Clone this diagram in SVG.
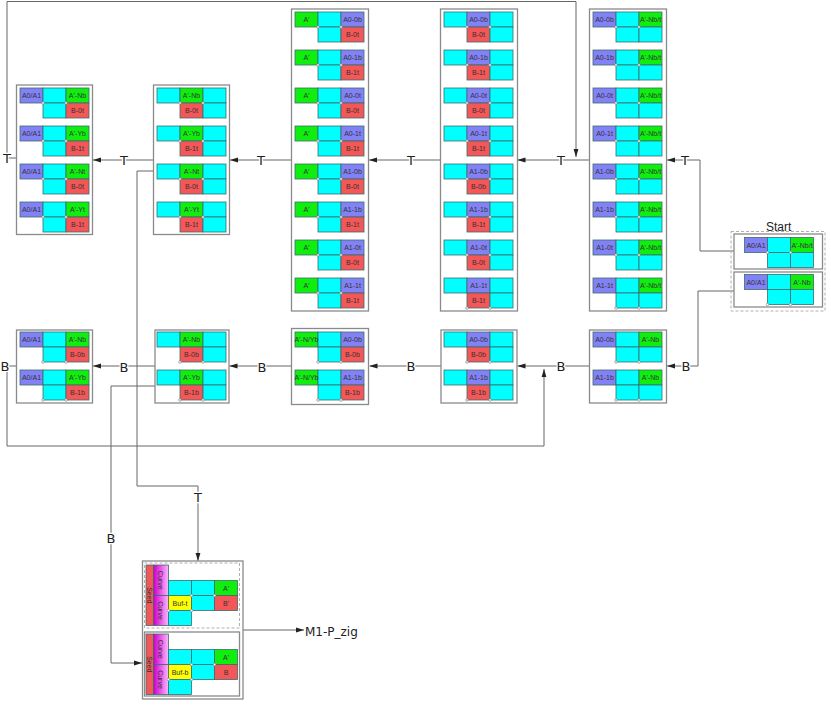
<svg xmlns="http://www.w3.org/2000/svg" width="831" height="708" viewBox="0 0 831 708">
<style>
.cy{fill:#00ffff}.pu{fill:#8282f6}.gr{fill:#10ee10}.rd{fill:#f35757}.ye{fill:#ffff00}.cv{fill:url(#cg)}
.box{fill:#fff;stroke:#8a8a8a;stroke-width:1.3}
.dbox{fill:none;stroke:#b0b0b0;stroke-width:1;stroke-dasharray:3 2}
.n text{font-family:"Liberation Sans",Arial,sans-serif;font-size:7px;fill:#333;text-anchor:middle}
.e{fill:none;stroke:#666;stroke-width:1}
.ea{marker-end:url(#ah)}
.el{font-family:"DejaVu Sans","Liberation Sans",sans-serif;font-size:13px;fill:#222;text-anchor:middle;stroke:#fff;stroke-width:2.5;paint-order:stroke;dominant-baseline:central}
.big{font-family:"DejaVu Sans","Liberation Sans",sans-serif;font-size:12px;fill:#222}
</style>
<defs>
<linearGradient id="cg" x1="0" y1="0" x2="1" y2="0"><stop offset="0" stop-color="#c800c8"/><stop offset="0.45" stop-color="#e650e6"/><stop offset="1" stop-color="#fbb8fb"/></linearGradient>
<marker id="ah" markerWidth="8" markerHeight="6" refX="8" refY="3" orient="auto" markerUnits="userSpaceOnUse"><path d="M0,0.6 L8,3 L0,5.4 z" fill="#222"/></marker>
<g id="pt" fill="#fff" stroke="#777" stroke-width="0.6"><circle cx="23" cy="0" r="1.3"/><circle cx="46" cy="0" r="1.3"/></g>
<g id="tE" stroke="#3e6a6c" stroke-width="0.8"><rect class="pu" width="23" height="15"/><rect class="cy" x="23" width="23" height="15"/><rect class="gr" x="46" width="23" height="15"/><rect class="cy" x="23" y="15" width="23" height="15"/><rect class="cy" x="46" y="15" width="23" height="15"/></g>
<g id="tD" stroke="#3e6a6c" stroke-width="0.8"><rect class="cy" width="23" height="15"/><rect class="pu" x="23" width="23" height="15"/><rect class="cy" x="46" width="23" height="15"/><rect class="rd" x="23" y="15" width="23" height="15"/><rect class="cy" x="46" y="15" width="23" height="15"/></g>
<g id="tC" stroke="#3e6a6c" stroke-width="0.8"><rect class="gr" width="23" height="15"/><rect class="cy" x="23" width="23" height="15"/><rect class="pu" x="46" width="23" height="15"/><rect class="cy" x="23" y="15" width="23" height="15"/><rect class="rd" x="46" y="15" width="23" height="15"/></g>
<g id="tB" stroke="#3e6a6c" stroke-width="0.8"><rect class="cy" width="23" height="15"/><rect class="gr" x="23" width="23" height="15"/><rect class="cy" x="46" width="23" height="15"/><rect class="rd" x="23" y="15" width="23" height="15"/><rect class="cy" x="46" y="15" width="23" height="15"/></g>
<g id="tA" stroke="#3e6a6c" stroke-width="0.8"><rect class="pu" width="23" height="15"/><rect class="cy" x="23" width="23" height="15"/><rect class="gr" x="46" width="23" height="15"/><rect class="cy" x="23" y="15" width="23" height="15"/><rect class="rd" x="46" y="15" width="23" height="15"/></g>
</defs>

<g id="connectors">
<path class="e ea" d="M734,251 H700 V160 H667"/>
<path class="e ea" d="M734,291 H698 V366 H667"/>
<path class="e ea" d="M589.5,160 H517.5"/>
<path class="e ea" d="M440.5,160 H369"/>
<path class="e ea" d="M291.5,160 H230"/>
<path class="e ea" d="M153.5,160 H93"/>
<path class="e ea" d="M16.5,158 H7 V1.5 H576 V157"/>
<path class="e ea" d="M589.5,366 H517.5"/>
<path class="e ea" d="M441,366 H369.5"/>
<path class="e ea" d="M291,366 H229.5"/>
<path class="e ea" d="M155,366 H93"/>
<path class="e ea" d="M16.5,366 H7 V446 H544 V369"/>
<path class="e ea" d="M153.5,171 H137 V486 H198 V561"/>
<path class="e ea" d="M155,386 H111 V663 H142"/>
<path class="e ea" d="M243,630 H304"/>
<text class="el" x="685" y="160">T</text>
<text class="el" x="686" y="366">B</text>
<text class="el" x="561" y="160">T</text>
<text class="el" x="411" y="160">T</text>
<text class="el" x="261" y="160">T</text>
<text class="el" x="124" y="160">T</text>
<text class="el" x="7" y="158">T</text>
<text class="el" x="561" y="366">B</text>
<text class="el" x="411" y="366">B</text>
<text class="el" x="262" y="367">B</text>
<text class="el" x="124" y="367">B</text>
<text class="el" x="5" y="366">B</text>
<text class="el" x="198" y="497">T</text>
<text class="el" x="111" y="538">B</text>
<text class="big" x="305" y="636">M1-P_zig</text>
</g>

<g id="colE" class="n">
<rect class="box" x="589.5" y="9" width="77" height="302"/>
<use href="#tE" x="593" y="12"/><use href="#pt" x="593" y="27"/><text x="604.5" y="22">A0-0b</text><text x="650.5" y="22">A'-Nb/t</text>
<use href="#tE" x="593" y="50"/><use href="#pt" x="593" y="65"/><text x="604.5" y="60">A0-1b</text><text x="650.5" y="60">A'-Nb/t</text>
<use href="#tE" x="593" y="88"/><use href="#pt" x="593" y="103"/><text x="604.5" y="98">A0-0t</text><text x="650.5" y="98">A'-Nb/t</text>
<use href="#tE" x="593" y="126"/><use href="#pt" x="593" y="141"/><text x="604.5" y="136">A0-1t</text><text x="650.5" y="136">A'-Nb/t</text>
<use href="#tE" x="593" y="164"/><use href="#pt" x="593" y="179"/><text x="604.5" y="174">A1-0b</text><text x="650.5" y="174">A'-Nb/t</text>
<use href="#tE" x="593" y="202"/><use href="#pt" x="593" y="217"/><text x="604.5" y="212">A1-1b</text><text x="650.5" y="212">A'-Nb/t</text>
<use href="#tE" x="593" y="240"/><use href="#pt" x="593" y="255"/><text x="604.5" y="250">A1-0t</text><text x="650.5" y="250">A'-Nb/t</text>
<use href="#tE" x="593" y="278"/><use href="#pt" x="593" y="308"/><text x="604.5" y="288">A1-1t</text><text x="650.5" y="288">A'-Nb/t</text>
</g>

<g id="colD" class="n">
<rect class="box" x="440.5" y="9" width="77" height="302"/>
<use href="#tD" x="444" y="12"/><use href="#pt" x="444" y="27"/><text x="478.5" y="22">A0-0b</text><text x="478.5" y="37">B-0t</text>
<use href="#tD" x="444" y="50"/><use href="#pt" x="444" y="65"/><text x="478.5" y="60">A0-1b</text><text x="478.5" y="75">B-1t</text>
<use href="#tD" x="444" y="88"/><use href="#pt" x="444" y="103"/><text x="478.5" y="98">A0-0t</text><text x="478.5" y="113">B-0t</text>
<use href="#tD" x="444" y="126"/><use href="#pt" x="444" y="141"/><text x="478.5" y="136">A0-1t</text><text x="478.5" y="151">B-1t</text>
<use href="#tD" x="444" y="164"/><use href="#pt" x="444" y="179"/><text x="478.5" y="174">A1-0b</text><text x="478.5" y="189">B-0b</text>
<use href="#tD" x="444" y="202"/><use href="#pt" x="444" y="217"/><text x="478.5" y="212">A1-1b</text><text x="478.5" y="227">B-1t</text>
<use href="#tD" x="444" y="240"/><use href="#pt" x="444" y="255"/><text x="478.5" y="250">A1-0t</text><text x="478.5" y="265">B-0t</text>
<use href="#tD" x="444" y="278"/><use href="#pt" x="444" y="308"/><text x="478.5" y="288">A1-1t</text><text x="478.5" y="303">B-1t</text>
</g>

<g id="colC" class="n">
<rect class="box" x="291.5" y="9" width="77" height="302"/>
<use href="#tC" x="295" y="12"/><use href="#pt" x="295" y="27"/><text x="306.5" y="22">A'</text><text x="352.5" y="22">A0-0b</text><text x="352.5" y="37">B-0t</text>
<use href="#tC" x="295" y="50"/><use href="#pt" x="295" y="65"/><text x="306.5" y="60">A'</text><text x="352.5" y="60">A0-1b</text><text x="352.5" y="75">B-1t</text>
<use href="#tC" x="295" y="88"/><use href="#pt" x="295" y="103"/><text x="306.5" y="98">A'</text><text x="352.5" y="98">A0-0t</text><text x="352.5" y="113">B-0t</text>
<use href="#tC" x="295" y="126"/><use href="#pt" x="295" y="141"/><text x="306.5" y="136">A'</text><text x="352.5" y="136">A0-1t</text><text x="352.5" y="151">B-1t</text>
<use href="#tC" x="295" y="164"/><use href="#pt" x="295" y="179"/><text x="306.5" y="174">A'</text><text x="352.5" y="174">A1-0b</text><text x="352.5" y="189">B-0t</text>
<use href="#tC" x="295" y="202"/><use href="#pt" x="295" y="217"/><text x="306.5" y="212">A'</text><text x="352.5" y="212">A1-1b</text><text x="352.5" y="227">B-1t</text>
<use href="#tC" x="295" y="240"/><use href="#pt" x="295" y="255"/><text x="306.5" y="250">A'</text><text x="352.5" y="250">A1-0t</text><text x="352.5" y="265">B-0t</text>
<use href="#tC" x="295" y="278"/><use href="#pt" x="295" y="293"/><text x="306.5" y="288">A'</text><text x="352.5" y="288">A1-1t</text><text x="352.5" y="303">B-1t</text>
</g>

<g id="colB" class="n">
<rect class="box" x="153.5" y="85" width="76" height="149.5"/>
<use href="#tB" x="157" y="88"/><use href="#pt" x="157" y="103"/><text x="191.5" y="98">A'-Nb</text><text x="191.5" y="113">B-0t</text>
<use href="#tB" x="157" y="126"/><use href="#pt" x="157" y="141"/><text x="191.5" y="136">A'-Yb</text><text x="191.5" y="151">B-1t</text>
<use href="#tB" x="157" y="164"/><use href="#pt" x="157" y="179"/><text x="191.5" y="174">A'-Nt</text><text x="191.5" y="189">B-0t</text>
<use href="#tB" x="157" y="202"/><use href="#pt" x="157" y="217"/><text x="191.5" y="212">A'-Yt</text><text x="191.5" y="227">B-1t</text>
</g>

<g id="colA" class="n">
<rect class="box" x="16.5" y="85" width="76" height="149.5"/>
<use href="#tA" x="20" y="88"/><use href="#pt" x="20" y="103"/><text x="31.5" y="98">A0/A1</text><text x="77.5" y="98">A'-Nb</text><text x="77.5" y="113">B-0t</text>
<use href="#tA" x="20" y="126"/><use href="#pt" x="20" y="141"/><text x="31.5" y="136">A0/A1</text><text x="77.5" y="136">A'-Yb</text><text x="77.5" y="151">B-1t</text>
<use href="#tA" x="20" y="164"/><use href="#pt" x="20" y="179"/><text x="31.5" y="174">A0/A1</text><text x="77.5" y="174">A'-Nt</text><text x="77.5" y="189">B-0t</text>
<use href="#tA" x="20" y="202"/><use href="#pt" x="20" y="217"/><text x="31.5" y="212">A0/A1</text><text x="77.5" y="212">A'-Yt</text><text x="77.5" y="227">B-1t</text>
</g>

<g id="boxE2" class="n">
<rect class="box" x="589.5" y="330" width="77" height="73"/>
<use href="#tE" x="593" y="332"/><use href="#pt" x="593" y="362"/><text x="604.5" y="342">A0-0b</text><text x="650.5" y="342">A'-Nb</text>
<use href="#tE" x="593" y="370"/><use href="#pt" x="593" y="400"/><text x="604.5" y="380">A1-1b</text><text x="650.5" y="380">A'-Nb</text>
</g>

<g id="boxD2" class="n">
<rect class="box" x="441" y="330" width="76" height="73"/>
<use href="#tD" x="444" y="332"/><use href="#pt" x="444" y="362"/><text x="478.5" y="342">A0-0b</text><text x="478.5" y="357">B-0b</text>
<use href="#tD" x="444" y="370"/><use href="#pt" x="444" y="400"/><text x="478.5" y="380">A1-1b</text><text x="478.5" y="395">B-1b</text>
</g>

<g id="boxC2" class="n">
<rect class="box" x="291.5" y="328.5" width="77" height="76"/>
<use href="#tC" x="295" y="332"/><use href="#pt" x="295" y="362"/><text x="306.5" y="342" font-size="6.3">A'-N/Yb</text><text x="352.5" y="342">A0-0b</text><text x="352.5" y="357">B-0b</text>
<use href="#tC" x="295" y="370"/><use href="#pt" x="295" y="400"/><text x="306.5" y="380" font-size="6.3">A'-N/Yb</text><text x="352.5" y="380">A1-1b</text><text x="352.5" y="395">B-1b</text>
</g>

<g id="boxB2" class="n">
<rect class="box" x="155" y="330" width="74" height="73"/>
<use href="#tB" x="157" y="332"/><use href="#pt" x="157" y="362"/><text x="191.5" y="342">A'-Nb</text><text x="191.5" y="357">B-0b</text>
<use href="#tB" x="157" y="370"/><use href="#pt" x="157" y="400"/><text x="191.5" y="380">A'-Yb</text><text x="191.5" y="395">B-1b</text>
</g>

<g id="boxA2" class="n">
<rect class="box" x="16.5" y="330" width="76" height="73"/>
<use href="#tA" x="20" y="332"/><use href="#pt" x="20" y="362"/><text x="31.5" y="342">A0/A1</text><text x="77.5" y="342">A'-Nb</text><text x="77.5" y="357">B-0b</text>
<use href="#tA" x="20" y="370"/><use href="#pt" x="20" y="400"/><text x="31.5" y="380">A0/A1</text><text x="77.5" y="380">A'-Yb</text><text x="77.5" y="395">B-1b</text>
</g>

<g id="start" class="n">
<text class="big" x="766" y="231" style="font-size:12px;text-anchor:start;fill:#222">Start</text>
<rect class="dbox" x="731" y="231.5" width="94" height="79.5"/>
<rect class="box" x="734" y="234" width="88.5" height="35"/>
<use href="#tE" x="744.5" y="237.5"/><use href="#pt" x="744.5" y="252.5"/><text x="756" y="247.5">A0/A1</text><text x="802" y="247.5">A'-Nb/t</text>
<rect class="box" x="734" y="272" width="88.5" height="35"/>
<use href="#tE" x="744.5" y="274.5"/><use href="#pt" x="744.5" y="304.5"/><text x="756" y="284.5">A0/A1</text><text x="802" y="284.5">A'-Nb</text>
</g>

<g id="seed" class="n">
<rect class="box" x="142.5" y="561" width="100.5" height="138"/>
<rect class="dbox" x="144.5" y="563" width="95" height="65"/>
<rect class="box" x="144.5" y="632" width="95" height="64"/>
<g stroke="#3e6a6c" stroke-width="0.8">
<rect class="rd" x="146" y="565" width="7.5" height="60.5"/>
<rect class="cv" x="153.5" y="565" width="15" height="30.5"/>
<rect class="cv" x="153.5" y="595.5" width="15" height="30"/>
<rect class="cy" x="168.5" y="580.5" width="23" height="15"/><rect class="cy" x="191.5" y="580.5" width="23" height="15"/><rect class="gr" x="214.5" y="580.5" width="23" height="15"/>
<rect class="ye" x="168.5" y="595.5" width="23" height="15"/><rect class="cy" x="191.5" y="595.5" width="23" height="15"/><rect class="rd" x="214.5" y="595.5" width="23" height="15"/>
<rect class="cy" x="168.5" y="610.5" width="23" height="15"/>
<rect class="rd" x="146" y="634" width="7.5" height="60.5"/>
<rect class="cv" x="153.5" y="634" width="15" height="30.5"/>
<rect class="cv" x="153.5" y="664.5" width="15" height="30"/>
<rect class="cy" x="168.5" y="649.5" width="23" height="15"/><rect class="cy" x="191.5" y="649.5" width="23" height="15"/><rect class="gr" x="214.5" y="649.5" width="23" height="15"/>
<rect class="ye" x="168.5" y="664.5" width="23" height="15"/><rect class="cy" x="191.5" y="664.5" width="23" height="15"/><rect class="rd" x="214.5" y="664.5" width="23" height="15"/>
<rect class="cy" x="168.5" y="679.5" width="23" height="15"/>
</g>
<use href="#pt" x="145.5" y="610.5"/>
<use href="#pt" x="168.5" y="595.5"/>
<use href="#pt" x="145.5" y="679.5"/>
<use href="#pt" x="168.5" y="664.5"/>
<text transform="translate(147.3,595.3) rotate(90)">Seed</text>
<text transform="translate(158.4,580.2) rotate(90)" font-size="7.5">Curve</text>
<text transform="translate(158.4,610.5) rotate(90)" font-size="7.5">Curve</text>
<text x="226" y="590.5">A'</text>
<text x="180" y="605.5" font-size="6.5">Buf-t</text>
<text x="226" y="605.5">B'</text>
<text transform="translate(147.3,664.3) rotate(90)">Seed</text>
<text transform="translate(158.4,649.2) rotate(90)" font-size="7.5">Curve</text>
<text transform="translate(158.4,679.5) rotate(90)" font-size="7.5">Curve</text>
<text x="226" y="659.5">A'</text>
<text x="180" y="674.5" font-size="6.5">Buf-b</text>
<text x="226" y="674.5">B</text>
</g>
</svg>
